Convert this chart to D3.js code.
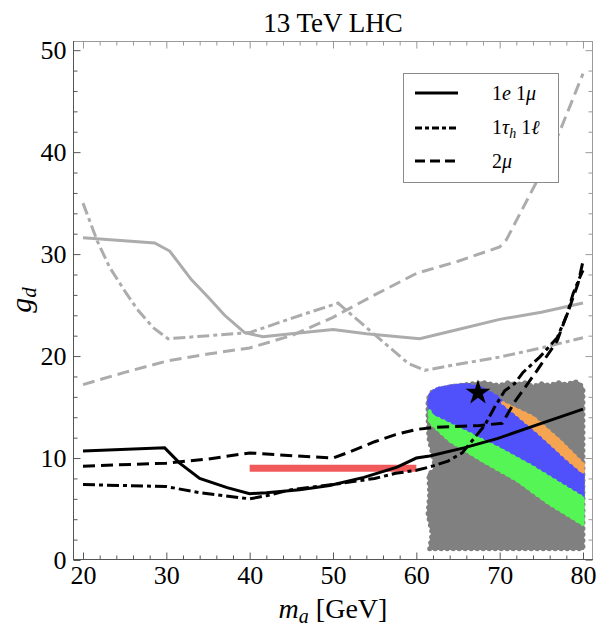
<!DOCTYPE html>
<html><head><meta charset="utf-8">
<script src="https://cdn.jsdelivr.net/npm/d3@7"></script>
<style>
body{margin:0;background:#fff;}
svg{display:block;}
text{font-family:"Liberation Serif","Times New Roman",serif;fill:#000;}
</style></head>
<body>
<svg id="chart" width="597" height="626"></svg>
<script>
// ---------- data (m_a [GeV], g_d) ----------
const title = "13 TeV LHC";
const xTicks = [20, 30, 40, 50, 60, 70, 80];
const yTicks = [0, 10, 20, 30, 40, 50];

// gray (previous / other) bounds
const graySolid = [[20,31.6],[28.6,31.1],[30.4,30.3],[33,27.5],[35,25.8],[37,24.0],[39.4,22.3],[41.6,21.9],[45,22.2],[50,22.6],[54,22.2],[60.4,21.7],[65,22.6],[70,23.6],[75,24.3],[80,25.2]];
const grayDashDot = [[20,35.0],[21.7,31.3],[23.2,28.7],[25,26.4],[26.5,24.6],[28.4,22.8],[30.2,21.7],[40,22.3],[45,23.7],[50.6,25.2],[55,22.1],[59,19.3],[61,18.6],[65,19.2],[70,19.9],[75,20.8],[80,21.8]];
const grayDashed = [[20,17.2],[25,18.4],[30,19.5],[35,20.2],[40,20.8],[45,22.0],[50,23.8],[55,26.0],[60,28.1],[65,29.3],[70,30.7],[70.8,31.4],[74.5,37.2],[77.2,42.0],[80,47.7]];

// black bounds (legend series)
const solid1e1mu = [[20,10.7],[29.8,11.0],[31.6,9.5],[34,8.0],[37.3,7.1],[40,6.5],[42,6.6],[46,6.9],[49.6,7.3],[53.7,8.1],[57.7,9.1],[60,10.0],[61.6,10.2],[65.7,11.0],[69.7,11.9],[73.6,13.0],[80,14.8]];
const dashDot1tau1l = [[20,7.4],[25,7.3],[30,7.2],[34,6.6],[37,6.3],[40,6.0],[42,6.3],[45,6.9],[50,7.4],[55,8.0],[57.5,8.5],[60,8.8],[61.5,9.1],[63.8,9.7],[65.5,10.5],[67,12.0],[68.2,13.2],[69.4,15.0],[70.6,16.6],[71.8,17.3],[72.8,18.4],[74.8,19.9],[76.9,21.8],[78.1,24.1],[78.8,26.1],[79.6,27.7],[80,28.4]];
const dashed2mu = [[20,9.2],[30,9.5],[35,9.9],[40,10.5],[45.7,10.2],[50,10.0],[52,10.6],[55,11.6],[57.5,12.3],[60,12.8],[62,13.0],[67.6,13.2],[70.3,13.4],[71.8,15.5],[74.5,18.6],[76.9,21.5],[78.4,24.8],[79.4,27.1],[80,29.3]];

// red segment
const redBar = [[40,9.0],[60,9.0]];
// benchmark star
const starPoint = [67.4, 16.4];

// scan regions (outlines of scatter clouds)
const grayRegion = [[61.6,1.1],[61.9,2.6],[61.4,4.5],[61.6,6.5],[61.5,8.4],[62.3,9.0],[62.0,10.2],[61.5,12.0],[61.4,14.0],[61.4,15.8],[62.0,16.6],[64,17.0],[66,17.2],[68,17.4],[70,17.1],[71,17.4],[72,17.2],[73,17.4],[74,17.0],[75,17.3],[76,17.1],[77,17.4],[78,17.2],[79,17.5],[79.6,17.3],[80,16.8],[80,1.1]];
const blueRegion = [[61.5,15.6],[61.7,16.3],[62.5,16.8],[64.5,17.1],[66.1,17.2],[68,16.8],[69.7,16.0],[70.4,15.4],[71.6,14.6],[74.8,12.4],[78,10.0],[80,8.6],[80,6.1],[77.2,7.5],[74,9.1],[70,10.9],[66.1,12.5],[62,14.1],[61.6,14.6]];
const greenRegion = [[61.6,14.6],[62,14.1],[66.1,12.5],[70,10.9],[74,9.1],[77.2,7.5],[80,6.1],[80,3.5],[76,5.5],[72.1,7.8],[68,9.7],[64,11.7],[61.9,13.3],[61.6,13.6]];
const orangeRegion = [[70.4,15.4],[74,14.0],[77.2,11.7],[80,9.4],[80,8.6],[78,10.0],[74.8,12.4],[71.6,14.6]];

const legendItems = [
  {label:"1e1μ", dash:null},
  {label:"1τh1ℓ", dash:"7,3,4,3"},
  {label:"2μ", dash:"10,5"}
];

// ---------- drawing ----------
const svg = d3.select("#chart");
const L = 73, R = 593, T = 41, B = 560;
const x = d3.scaleLinear().domain([18.8, 81.2]).range([L, R]);
const y = d3.scaleLinear().domain([0, 50.9]).range([B, T]);

svg.append("defs").append("clipPath").attr("id","clip")
  .append("rect").attr("x",L).attr("y",T).attr("width",R-L).attr("height",B-T);
const plot = svg.append("g").attr("clip-path","url(#clip)");

const line = d3.line().x(d=>x(d[0])).y(d=>y(d[1]));
const poly = pts => line(pts) + "Z";

// regions
[[grayRegion,"#808080"],[blueRegion,"#5151fb"],[greenRegion,"#55f555"],[orangeRegion,"#f5a552"]].forEach(([p,c],i)=>{
  plot.append("path").attr("d",poly(p)).attr("fill",c)
    .attr("stroke",c).attr("stroke-width",2.5).attr("stroke-linejoin","round");
  // dotted fringe imitating scatter points
  plot.append("path").attr("d",poly(p)).attr("fill","none")
    .attr("stroke",c).attr("stroke-width",i===0?5:4).attr("stroke-linecap","round")
    .attr("stroke-dasharray","0,6");
});

// red bar
plot.append("path").attr("d",line(redBar)).attr("stroke","#f05a5a")
  .attr("stroke-width",7).attr("fill","none");

// gray lines
const gw = 3, gc = "#acacac";
plot.append("path").attr("d",line(graySolid)).attr("fill","none").attr("stroke",gc).attr("stroke-width",gw);
plot.append("path").attr("d",line(grayDashDot)).attr("fill","none").attr("stroke",gc).attr("stroke-width",gw).attr("stroke-dasharray","12,4,4,4");
plot.append("path").attr("d",line(grayDashed)).attr("fill","none").attr("stroke",gc).attr("stroke-width",gw).attr("stroke-dasharray","12,6");

// black lines
const bw = 3;
plot.append("path").attr("d",line(solid1e1mu)).attr("fill","none").attr("stroke","#000").attr("stroke-width",bw);
plot.append("path").attr("d",line(dashDot1tau1l)).attr("fill","none").attr("stroke","#000").attr("stroke-width",bw).attr("stroke-dasharray","12,4,4,4");
plot.append("path").attr("d",line(dashed2mu)).attr("fill","none").attr("stroke","#000").attr("stroke-width",bw).attr("stroke-dasharray","12,6");

// star
plot.append("path").attr("d",d3.symbol().type(d3.symbolStar).size(195)())
  .attr("transform",`translate(${x(starPoint[0])},${y(starPoint[1])})`).attr("fill","#000");

// frame
const frameDark = "#555", frameLight = "#9a9a9a";
svg.append("line").attr("x1",L).attr("x2",R).attr("y1",T+0.5).attr("y2",T+0.5).attr("stroke",frameLight);
svg.append("line").attr("x1",R-0.5).attr("x2",R-0.5).attr("y1",T).attr("y2",B).attr("stroke",frameLight);
svg.append("line").attr("x1",L+0.5).attr("x2",L+0.5).attr("y1",T).attr("y2",B).attr("stroke",frameDark);
svg.append("line").attr("x1",L).attr("x2",R).attr("y1",B-0.5).attr("y2",B-0.5).attr("stroke",frameDark);

const xMinor = d3.range(20, 81, 2).filter(v=>v%10!==0);
const yMinor = d3.range(0, 51, 2).filter(v=>v%10!==0);
const fs = 26;

function styleAxis(g, col){
  g.select(".domain").remove();
  g.selectAll(".tick line").attr("stroke",col);
  g.selectAll(".tick text").attr("font-size",fs).attr("font-family","Liberation Serif, serif").attr("fill","#000");
}
// bottom
svg.append("g").attr("transform",`translate(0,${B-0.5})`)
  .call(d3.axisBottom(x).tickValues(xTicks).tickSize(-7).tickPadding(6).tickFormat(d3.format("d")))
  .call(g=>styleAxis(g,frameDark));
svg.append("g").attr("transform",`translate(0,${B-0.5})`)
  .call(d3.axisBottom(x).tickValues(xMinor).tickSize(-4).tickFormat(""))
  .call(g=>styleAxis(g,frameDark));
// top
svg.append("g").attr("transform",`translate(0,${T+0.5})`)
  .call(d3.axisTop(x).tickValues(xTicks).tickSize(-7).tickFormat(""))
  .call(g=>styleAxis(g,frameLight));
svg.append("g").attr("transform",`translate(0,${T+0.5})`)
  .call(d3.axisTop(x).tickValues(xMinor).tickSize(-4).tickFormat(""))
  .call(g=>styleAxis(g,frameLight));
// left
svg.append("g").attr("transform",`translate(${L+0.5},0)`)
  .call(d3.axisLeft(y).tickValues(yTicks).tickSize(-7).tickPadding(7).tickFormat(d3.format("d")))
  .call(g=>styleAxis(g,frameDark));
svg.append("g").attr("transform",`translate(${L+0.5},0)`)
  .call(d3.axisLeft(y).tickValues(yMinor).tickSize(-4).tickFormat(""))
  .call(g=>styleAxis(g,frameDark));
// right
svg.append("g").attr("transform",`translate(${R-0.5},0)`)
  .call(d3.axisRight(y).tickValues(yTicks).tickSize(-7).tickFormat(""))
  .call(g=>styleAxis(g,frameLight));
svg.append("g").attr("transform",`translate(${R-0.5},0)`)
  .call(d3.axisRight(y).tickValues(yMinor).tickSize(-4).tickFormat(""))
  .call(g=>styleAxis(g,frameLight));

// title
svg.append("text").attr("x",(L+R)/2).attr("y",32).attr("text-anchor","middle")
  .attr("font-size",27).text(title);

// x label
const xl = svg.append("text").attr("x",(L+R)/2).attr("y",618).attr("text-anchor","middle").attr("font-size",28);
xl.append("tspan").attr("font-style","italic").text("m");
xl.append("tspan").attr("font-style","italic").attr("font-size",20).attr("dy",5).text("a");
xl.append("tspan").attr("dy",-5).text(" [GeV]");

// y label
const yl = svg.append("text").attr("transform","translate(31,300) rotate(-90)").attr("text-anchor","middle").attr("font-size",30);
yl.append("tspan").attr("font-style","italic").text("g");
yl.append("tspan").attr("font-style","italic").attr("font-size",21).attr("dy",5).text("d");

// legend
const lg = svg.append("g");
lg.append("rect").attr("x",403.5).attr("y",73.5).attr("width",155).attr("height",109)
  .attr("fill","#fff").attr("stroke","#8a8a8a").attr("stroke-width",1);
const rowsY = [93, 128, 161];
const textY = [100, 134, 168];
legendItems.forEach((it,i)=>{
  lg.append("line").attr("x1",415).attr("x2",458).attr("y1",rowsY[i]).attr("y2",rowsY[i])
    .attr("stroke","#000").attr("stroke-width",3.2).attr("stroke-dasharray",it.dash);
  const t = lg.append("text").attr("x",492).attr("y",textY[i]).attr("font-size",20);
  if(i===0){
    t.append("tspan").text("1");
    t.append("tspan").attr("font-style","italic").text("e");
    t.append("tspan").text(" 1");
    t.append("tspan").attr("font-style","italic").text("μ");
  } else if(i===1){
    t.append("tspan").text("1");
    t.append("tspan").attr("font-style","italic").text("τ");
    t.append("tspan").attr("font-style","italic").attr("font-size",14).attr("dy",4).text("h");
    t.append("tspan").attr("dy",-4).text(" 1");
    t.append("tspan").attr("font-style","italic").text("ℓ");
  } else {
    t.append("tspan").text("2");
    t.append("tspan").attr("font-style","italic").text("μ");
  }
});
</script>
</body></html>
